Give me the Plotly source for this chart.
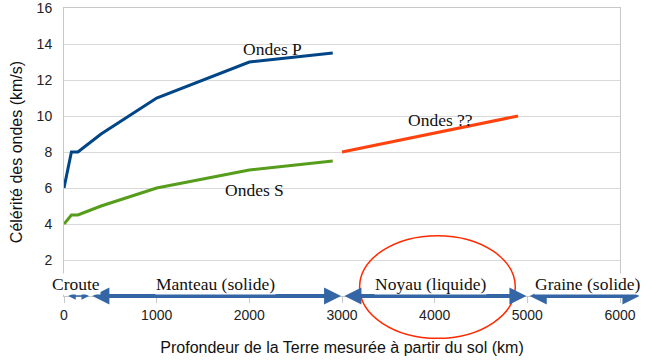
import plotly.graph_objects as go

# ---- data ----
depth_p = [0, 80, 150, 400, 1000, 2000, 2900]
speed_p = [6, 8, 8, 9, 11, 13, 13.5]

depth_s = [0, 80, 150, 400, 1000, 2000, 2900]
speed_s = [4, 4.5, 4.5, 5, 6, 7, 7.5]

depth_q = [3000, 4900]
speed_q = [8, 10]

layer_names = ["Croute", "Manteau (solide)", "Noyau (liquide)", "Graine (solide)"]
layer_start = [30, 290, 3010, 5010]
layer_end = [270, 2990, 4990, 6210]
layer_label_x = [130, 1640, 3950, 5655]

wave_labels = ["Ondes P", "Ondes S", "Ondes ??"]
wave_label_x = [2255, 2061, 4068]
wave_label_y = [13.75, 5.9, 9.8]

ellipse_x = [3190, 4870]
ellipse_y = [-2.35, 3.35]

x_ticks = [0, 1000, 2000, 3000, 4000, 5000, 6000]
y_ticks = [2, 4, 6, 8, 10, 12, 14, 16]
X_RANGE = [0, 6000]
Y_RANGE = [0, 16]

SANS = "Liberation Sans, Arial, sans-serif"
SERIF = "Liberation Serif, Times New Roman, serif"

fig = go.Figure()
fig.add_trace(go.Scatter(x=depth_p, y=speed_p, mode="lines",
                         line=dict(color="#004586", width=3), showlegend=False))
fig.add_trace(go.Scatter(x=depth_s, y=speed_s, mode="lines",
                         line=dict(color="#579d1c", width=3), showlegend=False))
fig.add_trace(go.Scatter(x=depth_q, y=speed_q, mode="lines",
                         line=dict(color="#ff420e", width=3), showlegend=False))

annotations = []
for name, x, y in zip(wave_labels, wave_label_x, wave_label_y):
    annotations.append(dict(x=x, y=y, xref="x", yref="y", text=name, showarrow=False,
                            font=dict(family=SERIF, size=17.5, color="#111")))

# layer arrows
for i, (s, e) in enumerate(zip(layer_start, layer_end)):
    small = i == 0
    annotations.append(dict(x=e, y=0, ax=s, ay=0, xref="x", yref="y", axref="x", ayref="y",
                            text="", showarrow=True, arrowside="end+start", arrowhead=2,
                            arrowsize=1.0 if small else 0.85,
                            arrowwidth=1.5 if small else 4,
                            arrowcolor="#3465a4", standoff=0, startstandoff=0))
for name, x in zip(layer_names, layer_label_x):
    annotations.append(dict(x=x, y=0, xref="x", yref="y", yshift=12, text=name,
                            showarrow=False, bgcolor="white", borderpad=0,
                            font=dict(family=SERIF, size=17.5, color="#111")))

fig.add_shape(type="circle", xref="paper", yref="paper",
              x0=(ellipse_x[0] - X_RANGE[0]) / (X_RANGE[1] - X_RANGE[0]),
              x1=(ellipse_x[1] - X_RANGE[0]) / (X_RANGE[1] - X_RANGE[0]),
              y0=(ellipse_y[0] - Y_RANGE[0]) / (Y_RANGE[1] - Y_RANGE[0]),
              y1=(ellipse_y[1] - Y_RANGE[0]) / (Y_RANGE[1] - Y_RANGE[0]),
              line=dict(color="#ff2a00", width=1.5))

fig.update_layout(
    width=660, height=360,
    margin=dict(l=64, r=40, t=8, b=64),
    paper_bgcolor="white", plot_bgcolor="white",
    annotations=annotations,
    xaxis=dict(range=X_RANGE, tickvals=x_ticks, showgrid=False, zeroline=False,
               automargin=False,
               showline=True, linecolor="#c8c8c8", linewidth=1, mirror=True,
               ticks="outside", ticklen=6, tickcolor="#c8c8c8",
               ticklabelstandoff=0, ticklabeloverflow="allow",
               tickfont=dict(family=SANS, size=14, color="#222"),
               title=dict(text="Profondeur de la Terre mesurée à partir du sol (km)",
                          font=dict(family=SANS, size=16, color="#111"), standoff=20)),
    yaxis=dict(range=Y_RANGE, tickvals=y_ticks, showgrid=True, gridcolor="#d9d9d9",
               automargin=False,
               zeroline=False, showline=True, linecolor="#c8c8c8", mirror=True,
               ticks="", ticklabelstandoff=8, ticklabeloverflow="allow",
               tickfont=dict(family=SANS, size=14, color="#222"),
               title=dict(text="Célérité des ondes (km/s)",
                          font=dict(family=SANS, size=16, color="#111"), standoff=10)),
)

fig.write_html("out.html", config={"displayModeBar": False},
               post_script="document.body.style.margin='0';document.body.style.padding='0';")
